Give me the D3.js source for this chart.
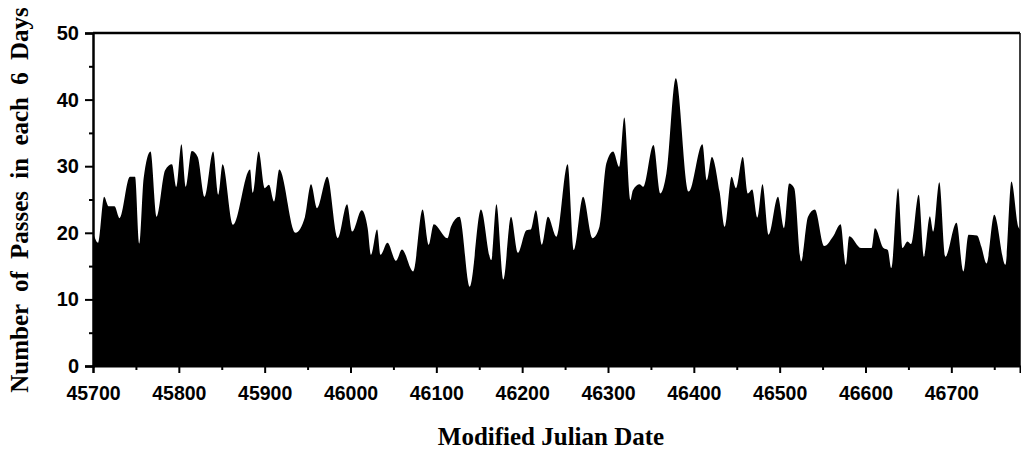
<!DOCTYPE html>
<html>
<head>
<meta charset="utf-8">
<script src="https://cdn.jsdelivr.net/npm/d3@7"></script>
<style>
  body { margin: 0; background: #fff; }
  svg { display: block; }
</style>
</head>
<body>
<svg id="chart" width="1021" height="455"></svg>
<script>
// Modified Julian Date of each reading (peaks / troughs)
const mjd = [
  45700, 45706, 45713, 45718, 45725, 45731, 45743, 45749, 45754, 45759,
  45767, 45774, 45784, 45792, 45797, 45803, 45808, 45815, 45822, 45830,
  45840, 45846, 45851, 45863, 45883, 45886, 45893, 45900, 45905, 45911,
  45917, 45936, 45947, 45954, 45961, 45973, 45985, 45996, 46002, 46013,
  46020, 46024, 46031, 46035, 46043, 46053, 46060, 46073, 46084, 46091,
  46097, 46113, 46117, 46127, 46139, 46152, 46164, 46170, 46178, 46187,
  46195, 46205, 46210, 46216, 46223, 46230, 46240, 46253, 46260, 46271,
  46282, 46290, 46298, 46306, 46313, 46319, 46326, 46329, 46337, 46341,
  46353, 46361, 46368, 46379, 46394, 46410, 46415, 46421, 46430, 46436,
  46444, 46449, 46457, 46463, 46468, 46474, 46480, 46487, 46498, 46505,
  46511, 46517, 46525, 46533, 46541, 46552, 46562, 46571, 46577, 46581,
  46595, 46607, 46611, 46621, 46626, 46630, 46638, 46643, 46649, 46653,
  46662, 46668, 46675, 46679, 46686, 46693, 46706, 46714, 46720, 46730,
  46735, 46741, 46750, 46763, 46770, 46778, 46780
];
// Number of passes in each 6 days
const passes = [
  20.0, 18.5, 25.4, 24.0, 24.0, 22.2, 28.4, 28.4, 18.4, 28.2,
  32.2, 22.4, 29.4, 30.3, 26.9, 33.3, 26.9, 32.3, 31.4, 25.4,
  32.2, 25.7, 30.3, 21.2, 29.5, 26.0, 32.2, 26.7, 27.2, 24.7,
  29.5, 20.0, 22.4, 27.3, 23.7, 28.4, 19.2, 24.3, 20.2, 23.4,
  20.7, 16.7, 20.5, 16.7, 18.5, 15.8, 17.5, 14.2, 23.5, 18.2,
  21.3, 19.2, 20.9, 22.4, 11.9, 23.5, 15.9, 24.3, 13.0, 22.4,
  17.0, 20.4, 20.5, 23.4, 18.2, 22.4, 19.4, 30.3, 17.4, 25.4,
  19.2, 20.9, 30.4, 32.2, 29.9, 37.3, 24.9, 26.4, 27.3, 26.9,
  33.2, 25.9, 28.9, 43.2, 26.2, 33.3, 27.9, 31.4, 26.2, 20.9,
  28.4, 26.7, 31.4, 25.9, 26.5, 22.3, 27.3, 19.7, 25.4, 20.7,
  27.4, 26.7, 15.7, 22.4, 23.5, 18.0, 19.4, 21.3, 15.2, 19.5,
  17.7, 17.7, 20.7, 17.7, 17.4, 14.7, 26.7, 17.7, 18.7, 18.3,
  25.7, 16.4, 22.5, 20.2, 27.6, 16.4, 21.5, 14.2, 19.7, 19.6,
  17.9, 15.4, 22.7, 15.2, 27.7, 20.9, 20.5
];
const xMajorTicks = [45700, 45800, 45900, 46000, 46100, 46200, 46300, 46400, 46500, 46600, 46700];
const xMinorTicks = [45750, 45850, 45950, 46050, 46150, 46250, 46350, 46450, 46550, 46650, 46750];
const yMajorTicks = [0, 10, 20, 30, 40, 50];
const yMinorTicks = [5, 15, 25, 35, 45];
const xTitle = "Modified Julian Date";
const yTitle = "Number of Passes in each 6 Days";

(function () {
const svg = d3.select("#chart");
const mLeft = 93, mRight = 1020, mTop = 33, mBottom = 366;

const x = d3.scaleLinear().domain([45700, 46780]).range([mLeft, mRight]);
const y = d3.scaleLinear().domain([0, 50]).range([mBottom, mTop]);

const data = mjd.map((d, i) => ({ t: d, v: passes[i] }));

const area = d3.area()
  .x(d => x(d.t))
  .y0(y(0))
  .y1(d => y(d.v))
  .curve(d3.curveMonotoneX);

svg.append("path")
  .datum(data)
  .attr("d", area)
  .attr("fill", "#000");

const tickFont = "'Liberation Sans', Arial, sans-serif";

// X axis
const gx = svg.append("g").attr("transform", `translate(0,${mBottom})`)
  .call(d3.axisBottom(x).tickValues(xMajorTicks).tickFormat(d3.format("d")).tickSize(7).tickPadding(13));
gx.select(".domain").attr("stroke", "#000").attr("stroke-width", 2);
gx.selectAll(".tick line").attr("stroke", "#000").attr("stroke-width", 2);
gx.selectAll(".tick text")
  .attr("font-family", tickFont).attr("font-weight", "bold").attr("font-size", 19.5).attr("fill", "#000");

svg.append("g").attr("transform", `translate(0,${mBottom})`)
  .call(d3.axisBottom(x).tickValues(xMinorTicks).tickFormat("").tickSize(4))
  .call(g => g.select(".domain").remove())
  .selectAll(".tick line").attr("stroke", "#000").attr("stroke-width", 2);

// Y axis
const gy = svg.append("g").attr("transform", `translate(${mLeft},0)`)
  .call(d3.axisLeft(y).tickValues(yMajorTicks).tickFormat(d3.format("d")).tickSize(8).tickPadding(6));
gy.select(".domain").attr("stroke", "#000").attr("stroke-width", 2.5);
gy.selectAll(".tick line").attr("stroke", "#000").attr("stroke-width", 2);
gy.selectAll(".tick text")
  .attr("font-family", tickFont).attr("font-weight", "bold").attr("font-size", 20).attr("fill", "#000");

svg.append("g").attr("transform", `translate(${mLeft},0)`)
  .call(d3.axisLeft(y).tickValues(yMinorTicks).tickFormat("").tickSize(4))
  .call(g => g.select(".domain").remove())
  .selectAll(".tick line").attr("stroke", "#000").attr("stroke-width", 2);

// Frame: top and right
svg.append("line").attr("x1", mLeft).attr("x2", mRight).attr("y1", mTop).attr("y2", mTop)
  .attr("stroke", "#000").attr("stroke-width", 2.5);
svg.append("line").attr("x1", mRight).attr("x2", mRight).attr("y1", mTop).attr("y2", mBottom)
  .attr("stroke", "#000").attr("stroke-width", 1.5);

// Titles
const titleFont = "'Liberation Serif', 'Times New Roman', serif";
svg.append("text")
  .attr("x", 551).attr("y", 445)
  .attr("text-anchor", "middle")
  .attr("font-family", titleFont).attr("font-weight", "bold").attr("font-size", 25)
  .attr("fill", "#000")
  .text(xTitle);

svg.append("text")
  .attr("transform", "translate(28,200) rotate(-90)")
  .attr("text-anchor", "middle")
  .attr("font-family", titleFont).attr("font-weight", "bold").attr("font-size", 25)
  .attr("word-spacing", 6)
  .attr("fill", "#000")
  .text(yTitle);
})();
</script>
</body>
</html>
